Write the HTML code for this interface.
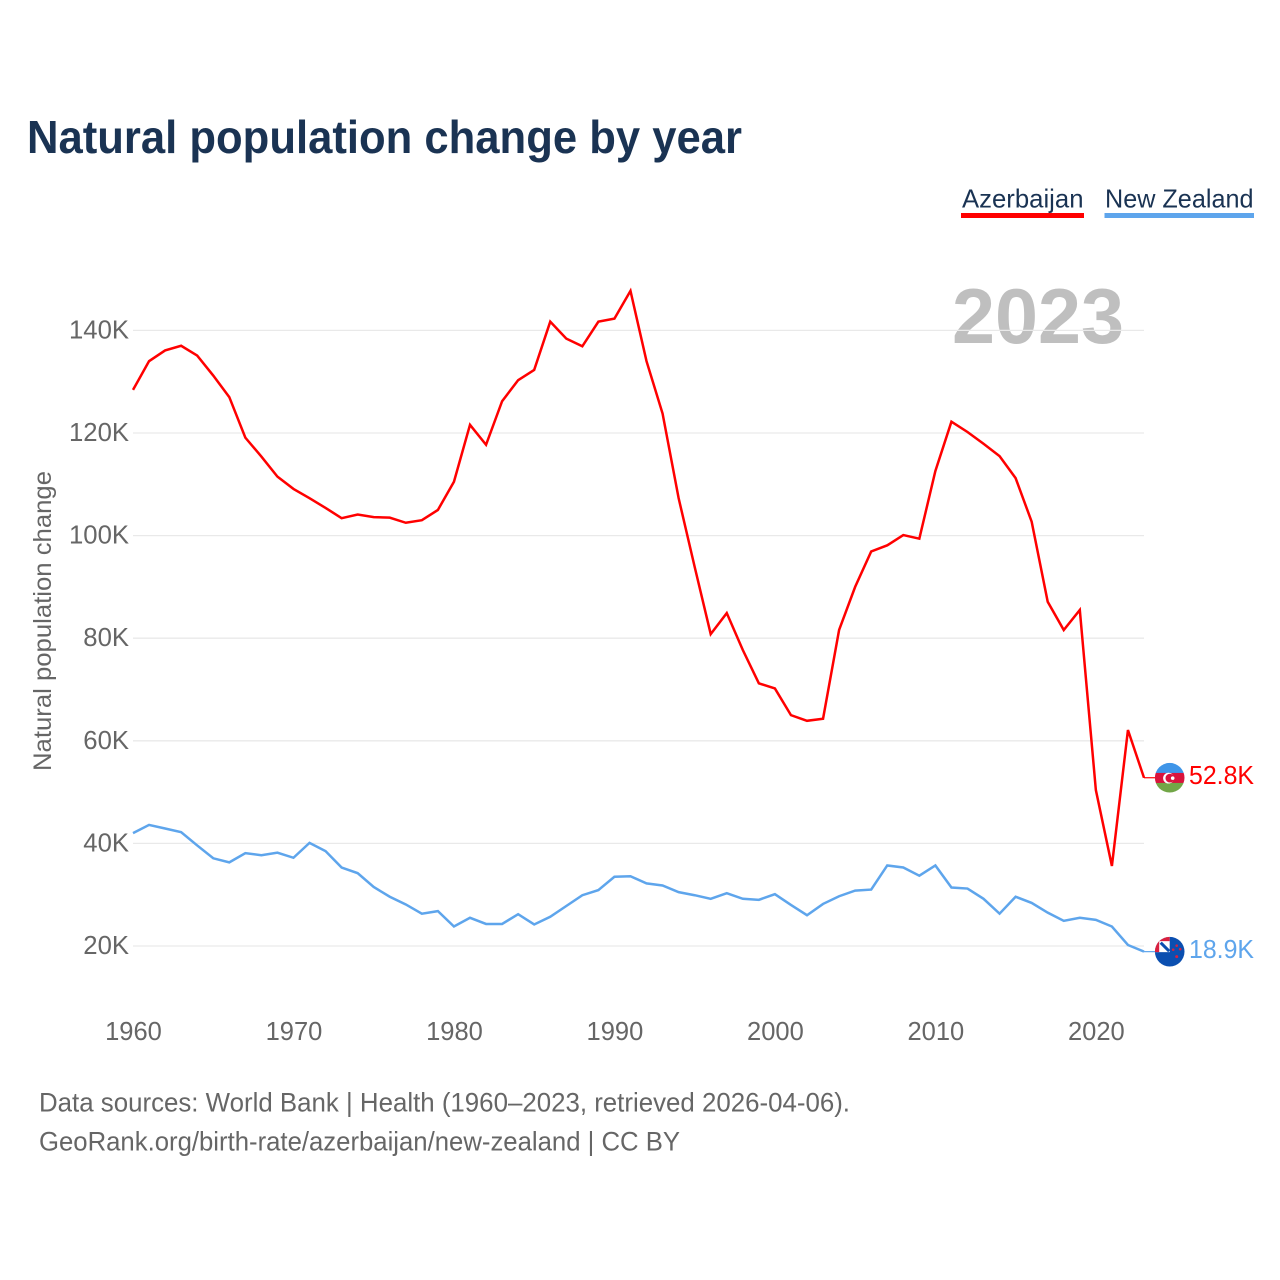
<!DOCTYPE html>
<html lang="en">
<head>
<meta charset="utf-8">
<title>Natural population change by year</title>
<style>
html,body{margin:0;padding:0;background:#fff;}
svg{display:block;font-family:"Liberation Sans",sans-serif;}
</style>
</head>
<body>
<svg id="chart" xmlns="http://www.w3.org/2000/svg" width="1280" height="1280" viewBox="0 0 1280 1280">
<defs>
<clipPath id="clip-az"><circle id="clip-az-c" cx="0" cy="0" r="14.8"/></clipPath>
<clipPath id="clip-nz"><circle id="clip-nz-c" cx="0" cy="0" r="14.8"/></clipPath>
</defs>
<rect width="1280" height="1280" fill="#fff"/>
<text x="27" y="153" font-size="46" font-weight="700" fill="#1a3353" textLength="715" lengthAdjust="spacingAndGlyphs">Natural population change by year</text>
<g>
<text x="962" y="207.5" font-size="26" fill="#1a3353" textLength="121.5" lengthAdjust="spacingAndGlyphs">Azerbaijan</text>
<rect x="961" y="213" width="123" height="5" fill="#ff0000"/>
</g>
<g>
<text x="1105" y="207.5" font-size="26" fill="#1a3353" textLength="148.5" lengthAdjust="spacingAndGlyphs">New Zealand</text>
<rect x="1104.5" y="213" width="149.5" height="5" fill="#5ea5ec"/>
</g>
<text x="952" y="343" font-size="78" font-weight="700" fill="#808080" fill-opacity="0.5" textLength="172" lengthAdjust="spacingAndGlyphs">2023</text>
<g id="grid"></g>
<g id="y-axis"></g>
<g id="x-axis"></g>
<text transform="translate(51,771) rotate(-90)" font-size="25" fill="#666666" textLength="300" lengthAdjust="spacingAndGlyphs">Natural population change</text>
<g id="series"></g>
<g id="flag-az" clip-path="url(#clip-az)"></g>
<g id="flag-nz" clip-path="url(#clip-nz)"></g>
<text x="39" y="1111.5" font-size="27" fill="#666666" textLength="811" lengthAdjust="spacingAndGlyphs">Data sources: World Bank | Health (1960–2023, retrieved 2026-04-06).</text>
<text x="39" y="1150.5" font-size="27" fill="#666666" textLength="641" lengthAdjust="spacingAndGlyphs">GeoRank.org/birth-rate/azerbaijan/new-zealand | CC BY</text>
</svg>
<script>
const years = [1960,1961,1962,1963,1964,1965,1966,1967,1968,1969,1970,1971,1972,1973,1974,1975,1976,1977,1978,1979,1980,1981,1982,1983,1984,1985,1986,1987,1988,1989,1990,1991,1992,1993,1994,1995,1996,1997,1998,1999,2000,2001,2002,2003,2004,2005,2006,2007,2008,2009,2010,2011,2012,2013,2014,2015,2016,2017,2018,2019,2020,2021,2022,2023];
const azerbaijan = [128.4,134.0,136.1,137.0,135.1,131.2,127.0,119.1,115.4,111.5,109.1,107.3,105.4,103.4,104.1,103.6,103.5,102.5,103.0,105.0,110.5,121.6,117.7,126.2,130.3,132.3,141.7,138.4,136.9,141.7,142.3,147.7,134.0,123.8,107.3,93.9,80.8,84.9,77.7,71.2,70.2,65.0,63.9,64.3,81.6,90.0,96.9,98.1,100.1,99.4,112.6,122.2,120.2,117.9,115.5,111.2,102.7,87.1,81.6,85.5,50.4,35.6,62.1,52.8];
const newZealand = [42.0,43.6,42.9,42.2,39.6,37.1,36.3,38.1,37.7,38.2,37.2,40.1,38.5,35.3,34.2,31.5,29.6,28.1,26.3,26.8,23.8,25.5,24.3,24.3,26.2,24.2,25.7,27.8,29.9,30.9,33.5,33.6,32.2,31.8,30.5,29.9,29.2,30.3,29.2,29.0,30.1,28.0,26.0,28.2,29.7,30.8,31.0,35.7,35.3,33.7,35.7,31.4,31.2,29.2,26.3,29.6,28.4,26.5,24.9,25.5,25.1,23.8,20.2,18.9];
const yTicks = [20,40,60,80,100,120,140];
const xTicks = [1960,1970,1980,1990,2000,2010,2020];

const NS = 'http://www.w3.org/2000/svg';
function xScale(year){ return 133 + (year - 1960) * (1144 - 133) / 63; }
function yScale(k){ return 946 - (k - 20) * 5.13; }
function make(tag, attrs, parent, text){
  const el = document.createElementNS(NS, tag);
  for (const key in attrs) el.setAttribute(key, attrs[key]);
  if (text !== undefined) el.textContent = text;
  parent.appendChild(el);
  return el;
}
const grid = document.getElementById('grid');
const yAxis = document.getElementById('y-axis');
const xAxis = document.getElementById('x-axis');
const seriesLayer = document.getElementById('series');

yTicks.forEach(function(t){
  const line = make('line', {x1:133, x2:1144, y1:yScale(t), y2:yScale(t), stroke:'#e9e9e9', 'stroke-width':1.3}, grid);
  
  
  const label = make('text', {x:129, y:yScale(t) + 8, 'text-anchor':'end', 'font-size':25.7, fill:'#666666'}, yAxis, t + 'K');
  
  
});
xTicks.forEach(function(t){
  const label = make('text', {x:xScale(t) + 0.5, y:1040, 'text-anchor':'middle', 'font-size':25.5, fill:'#666666'}, xAxis, String(t));
  
  
});
function pathFor(values){
  return values.map(function(v, i){
    return (i ? 'L' : 'M') + xScale(years[i]).toFixed(2) + ' ' + yScale(v).toFixed(2);
  }).join(' ');
}
const azLine = make('path', {d:pathFor(azerbaijan), fill:'none', stroke:'#ff0000', 'stroke-width':2.5, 'stroke-linejoin':'miter'}, seriesLayer);


const nzLine = make('path', {d:pathFor(newZealand), fill:'none', stroke:'#5ea5ec', 'stroke-width':2.5, 'stroke-linejoin':'miter'}, seriesLayer);



const azLast = azerbaijan[azerbaijan.length - 1];
const nzLast = newZealand[newZealand.length - 1];
const azY = yScale(azLast);
const nzY = yScale(nzLast);

const azConn = make('line', {x1:1144, x2:1155, y1:azY, y2:azY, stroke:'#ff0000', 'stroke-width':1.2}, seriesLayer);


const nzConn = make('line', {x1:1144, x2:1155, y1:nzY, y2:nzY, stroke:'#5ea5ec', 'stroke-width':1.2}, seriesLayer);



const azValue = make('text', {x:1189, y:azY + 6.5, 'font-size':25.5, fill:'#ff0000', textLength:65, lengthAdjust:'spacingAndGlyphs'}, seriesLayer, azLast.toFixed(1) + 'K');


const nzValue = make('text', {x:1189, y:nzY + 6.5, 'font-size':25.5, fill:'#5ea5ec', textLength:65, lengthAdjust:'spacingAndGlyphs'}, seriesLayer, nzLast.toFixed(1) + 'K');



const FX = 1169.7;
const azClip = document.getElementById('clip-az-c');
azClip.setAttribute('cx', FX);
azClip.setAttribute('cy', azY);
const nzClip = document.getElementById('clip-nz-c');
nzClip.setAttribute('cx', FX);
nzClip.setAttribute('cy', nzY);

const az = document.getElementById('flag-az');
make('rect', {x:FX - 15, y:azY - 15, width:30, height:10.5, fill:'#3f95e8'}, az);
make('rect', {x:FX - 15, y:azY - 4.8, width:30, height:10.2, fill:'#d9133c'}, az);
make('rect', {x:FX - 15, y:azY + 5.2, width:30, height:10, fill:'#72a647'}, az);
make('circle', {cx:FX - 1.2, cy:azY + 0.4, r:5.4, fill:'#fff'}, az);
make('circle', {cx:FX + 0.2, cy:azY + 0.4, r:4.4, fill:'#d9133c'}, az);
make('circle', {cx:FX + 3, cy:azY + 0.4, r:1.8, fill:'#fff'}, az);

const nz = document.getElementById('flag-nz');
make('rect', {x:FX - 15, y:nzY - 15, width:30, height:30, fill:'#0b4fb0'}, nz);
make('rect', {x:FX - 15, y:nzY - 15, width:15, height:15.5, fill:'#ffffff'}, nz);
make('rect', {x:FX - 15, y:nzY - 15, width:15, height:4.5, fill:'#d9203f'}, nz);
make('rect', {x:FX - 15, y:nzY - 15, width:4.5, height:15.5, fill:'#d9203f'}, nz);
make('path', {d:'M' + (FX - 9) + ' ' + (nzY - 9) + ' L' + (FX - 0.5) + ' ' + (nzY - 0.5), stroke:'#0b4fb0', 'stroke-width':3}, nz);
make('circle', {cx:FX + 3.5, cy:nzY - 2, r:1.3, fill:'#d9203f'}, nz);
make('circle', {cx:FX + 7, cy:nzY - 6, r:1.3, fill:'#d9203f'}, nz);
make('circle', {cx:FX + 10.5, cy:nzY - 2.5, r:1.3, fill:'#d9203f'}, nz);
make('circle', {cx:FX + 7, cy:nzY + 5, r:1.5, fill:'#d9203f'}, nz);
</script>
</body>
</html>
